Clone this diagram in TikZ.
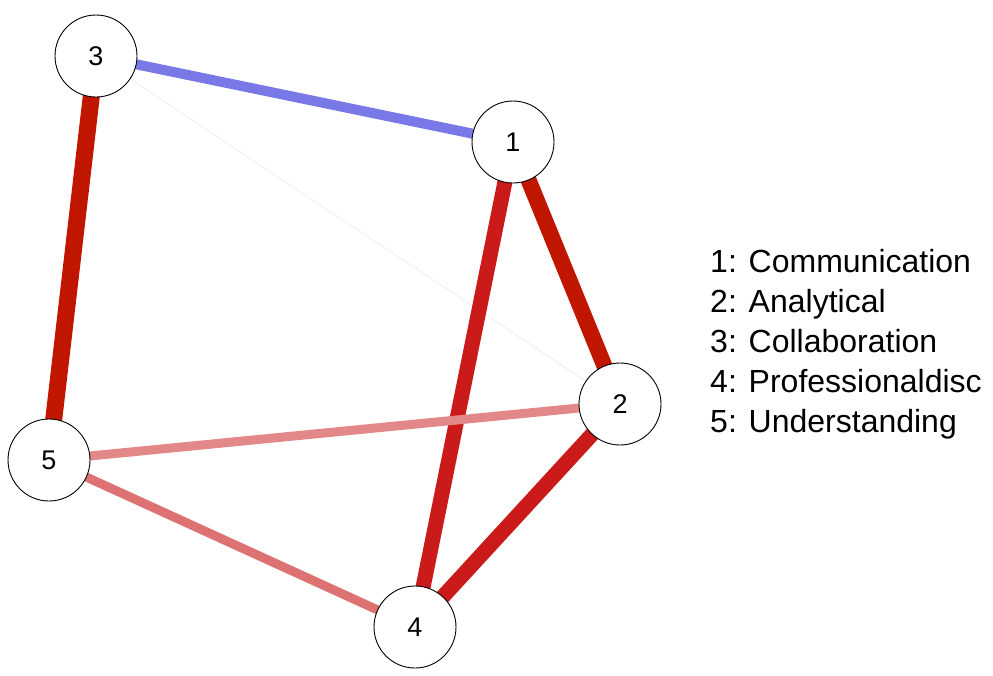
\documentclass[tikz,border=0pt]{standalone}
\usepackage{fontspec}
\setmainfont{Liberation Sans}
\usetikzlibrary{backgrounds}
\definecolor{deepred}{RGB}{192,22,0}
\definecolor{midred}{RGB}{202,26,26}
\definecolor{palered}{RGB}{226,136,136}
\definecolor{softred}{RGB}{220,114,114}
\definecolor{edgeblue}{RGB}{120,120,230}
\definecolor{faint}{RGB}{244,240,240}
\begin{document}
\begin{tikzpicture}[x=1pt, y=-1pt,
    vertex/.style={circle, draw=black, line width=0.9pt, fill=white, minimum size=82pt, inner sep=0pt, font=\fontsize{27}{27}\selectfont},
    legend/.style={anchor=base west, inner sep=0pt, font=\fontsize{32}{40}\selectfont}]
    \useasboundingbox (0,0) rectangle (993,675);
    \node[vertex] (n1) at (513,142) {1};
    \node[vertex] (n2) at (620,404) {2};
    \node[vertex] (n3) at (96,56) {3};
    \node[vertex] (n4) at (415,627) {4};
    \node[vertex] (n5) at (49,460) {5};
    \begin{scope}[on background layer]
        \draw[faint, line width=1pt] (n3.center) -- (n2.center);
        \draw[edgeblue, line width=10pt] (n3.center) -- (n1.center);
        \draw[deepred, line width=17pt] (n3.center) -- (n5.center);
        \draw[deepred, line width=16pt] (n1.center) -- (n2.center);
        \draw[midred, line width=15pt] (n1.center) -- (n4.center);
        \draw[midred, line width=15pt] (n2.center) -- (n4.center);
        \draw[palered, line width=9pt] (n5.center) -- (n2.center);
        \draw[softred, line width=9pt] (n5.center) -- (n4.center);
    \end{scope}
    % legend
    \node[legend] (l1) at (710,272) {1: Communication};
    \node[legend] (l2) at (710,312) {2: Analytical};
    \node[legend] (l3) at (710,352) {3: Collaboration};
    \node[legend] (l4) at (710,392) {4: Professionaldisc};
    \node[legend] (l5) at (710,432) {5: Understanding};
\end{tikzpicture}
\end{document}
